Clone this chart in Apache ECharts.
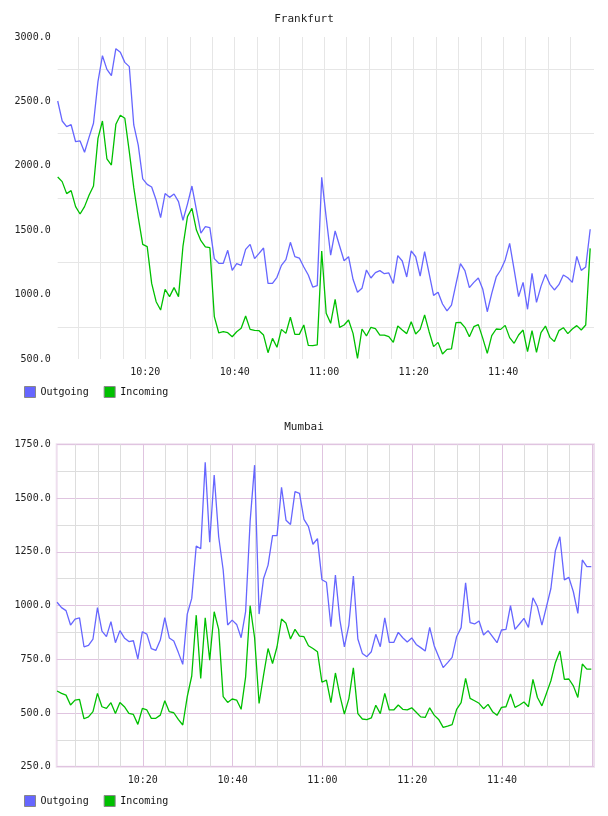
<!DOCTYPE html>
<html>
<head>
<meta charset="utf-8">
<script src="https://cdn.jsdelivr.net/npm/echarts@6/dist/echarts.min.js"></script>
<style>
  html, body { margin: 0; padding: 0; background: #fff; }
  #chart { width: 608px; height: 816px; }
</style>
</head>
<body>
<div id="chart"></div>
<script>
// minutes after 10:00 for grid lines and labels
const gridMinutes = [5, 10, 15, 20, 25, 30, 35, 40, 45, 50, 55, 60, 65, 70, 75, 80, 85, 90, 95, 100, 105, 110, 115, 120]
const labelMinutes = [20, 40, 60, 80, 100]

// Frankfurt, one sample per minute
const fraOut = [
  2503, 2348, 2304, 2319, 2187, 2193, 2105, 2221, 2330, 2653,
  2855, 2749, 2700, 2909, 2881, 2803, 2770, 2317, 2161, 1898,
  1856, 1835, 1734, 1597, 1784, 1755, 1781, 1722, 1577, 1703,
  1843, 1657, 1478, 1527, 1520, 1279, 1243, 1243, 1344, 1188,
  1240, 1227, 1351, 1390, 1279, 1320, 1362, 1087, 1087, 1134,
  1227, 1271, 1406, 1295, 1284, 1214, 1152, 1059, 1069, 1910,
  1600, 1307, 1494, 1377, 1263, 1294, 1119, 1018, 1049, 1191,
  1129, 1170, 1186, 1162, 1168, 1087, 1302, 1261, 1137, 1339,
  1294, 1144, 1333, 1165, 994, 1018, 927, 873, 919, 1082,
  1240, 1186, 1054, 1095, 1129, 1041, 867, 1010, 1137, 1191,
  1269, 1398, 1194, 984, 1095, 886, 1165, 940, 1064, 1157,
  1080, 1036, 1077, 1152, 1131, 1095, 1297, 1188, 1214, 1507
]
const fraIn = [
  1913, 1877, 1784, 1807, 1683, 1626, 1683, 1771, 1843, 2213,
  2348, 2053, 2006, 2322, 2392, 2369, 2110, 1830, 1600, 1390,
  1372, 1087, 945, 880, 1041, 984, 1054, 984, 1377, 1605,
  1670, 1501, 1419, 1370, 1364, 829, 702, 712, 704, 673,
  712, 738, 834, 730, 723, 720, 686, 549, 660, 591,
  730, 699, 824, 691, 691, 764, 606, 604, 609, 1339,
  855, 777, 963, 746, 764, 803, 699, 505, 733, 679,
  746, 736, 686, 686, 673, 629, 756, 725, 697, 790,
  694, 730, 842, 712, 596, 629, 539, 575, 578, 782,
  785, 746, 673, 751, 767, 660, 544, 681, 733, 730,
  761, 666, 622, 686, 725, 557, 720, 552, 704, 756,
  668, 635, 720, 743, 697, 733, 759, 725, 764, 1359
]

// Mumbai
const mumOut = [
  1015, 990, 976, 909, 937, 942, 808, 814, 844, 990,
  881, 855, 925, 827, 883, 849, 832, 836, 751, 878,
  867, 799, 791, 839, 943, 849, 835, 782, 726, 960,
  1033, 1277, 1264, 1666, 1294, 1607, 1320, 1165, 909, 932,
  912, 850, 971, 1390, 1653, 960, 1126, 1188, 1325, 1325,
  1550, 1397, 1377, 1530, 1522, 1401, 1367, 1285, 1311, 1120,
  1108, 901, 1142, 932, 808, 909, 1137, 844, 777, 762,
  785, 866, 808, 943, 828, 828, 875, 850, 830, 849,
  819, 804, 788, 898, 813, 762, 711, 734, 759, 855,
  897, 1106, 920, 914, 928, 863, 883, 855, 827, 886,
  889, 999, 889, 914, 940, 898, 1036, 994, 909, 994,
  1079, 1255, 1320, 1119, 1131, 1064, 963, 1212, 1181, 1181
]
const mumIn = [
  602, 591, 583, 537, 560, 563, 473, 482, 506, 591,
  529, 521, 548, 498, 549, 529, 498, 493, 447, 521,
  514, 475, 475, 490, 557, 506, 501, 470, 444, 576,
  672, 955, 661, 943, 746, 971, 889, 576, 549, 565,
  560, 517, 668, 999, 850, 544, 676, 800, 730, 808,
  937, 917, 844, 889, 858, 855, 813, 800, 785, 643,
  653, 548, 686, 581, 495, 567, 710, 497, 472, 469,
  477, 536, 497, 591, 514, 514, 537, 517, 514, 524,
  503, 482, 479, 524, 490, 470, 433, 439, 446, 517,
  548, 661, 568, 557, 545, 520, 540, 506, 489, 526,
  529, 588, 526, 537, 551, 529, 656, 572, 533, 591,
  650, 734, 788, 656, 658, 626, 572, 728, 704, 704
]

const FRA_START = 0.45  // first sample, minutes after 10:00
const MUM_START = 0.9

const FONT = '"DejaVu Sans Mono", monospace'
const BLUE = '#6666ff'
const GREEN = '#00c000'

const fmtTime = v => {
  const m = Math.round(v)
  return `${10 + Math.floor(m / 60)}:${String(m % 60).padStart(2, '0')}`
}
const fmtVal = step => v => (v % step === 0 ? v.toFixed(1) : '')
const pairs = (vals, start) => vals.map((v, i) => [start + i, v])

const labelStyle = { fontFamily: FONT, fontSize: 10, color: '#222' }

const chart = echarts.init(document.getElementById('chart'), null, { renderer: 'canvas' })

chart.setOption({
  animation: false,
  title: [
    { text: 'Frankfurt', left: 'center', top: 14, padding: 0, textStyle: { fontFamily: FONT, fontSize: 11, fontWeight: 'normal', color: '#222' } },
    { text: 'Mumbai', left: 'center', top: 422, padding: 0, textStyle: { fontFamily: FONT, fontSize: 11, fontWeight: 'normal', color: '#222' } },
  ],
  legend: [
    { left: 24, top: 386, padding: 0, data: ['Outgoing', 'Incoming'], icon: 'rect', itemWidth: 11, itemHeight: 11, itemGap: 15,
      textStyle: { fontFamily: FONT, fontSize: 10, color: '#111' }, itemStyle: { borderColor: '#888', borderWidth: 1 } },
    { left: 24, top: 795, padding: 0, data: ['Outgoing', 'Incoming'], icon: 'rect', itemWidth: 11, itemHeight: 11, itemGap: 15,
      textStyle: { fontFamily: FONT, fontSize: 10, color: '#111' }, itemStyle: { borderColor: '#888', borderWidth: 1 } },
  ],
  grid: [
    { left: 57.7, right: 14, top: 37, height: 322 },
    { left: 56.7, right: 14, top: 444.3, height: 322.4, show: true, borderColor: '#eedfee', borderWidth: 2 },
  ],
  xAxis: [
    {
      type: 'value', gridIndex: 0, min: 0.45, max: 120.3,
      axisLine: { show: false },
      axisTick: { show: false, customValues: gridMinutes.filter(m => m < 120) },
      axisLabel: { ...labelStyle, margin: 8, customValues: labelMinutes, formatter: fmtTime },
      splitLine: { show: true, lineStyle: { color: '#e6e6e6', width: 1 } },
    },
    {
      type: 'value', gridIndex: 1, min: 0.82, max: 120.5,
      axisLine: { show: false },
      axisTick: { show: false, customValues: gridMinutes },
      axisLabel: { ...labelStyle, margin: 9, customValues: labelMinutes, formatter: fmtTime },
      splitLine: { show: true, lineStyle: { color: ['#dddddd', '#dddddd', '#dddddd', '#e0c4e0'], width: 1 } },
    },
  ],
  yAxis: [
    {
      type: 'value', gridIndex: 0, min: 500, max: 3000, interval: 250,
      axisLine: { show: false }, axisTick: { show: false },
      axisLabel: { ...labelStyle, margin: 7, formatter: fmtVal(500) },
      splitLine: { show: true, lineStyle: { color: ['rgba(0,0,0,0)', '#e6e6e6'], width: 1 } },
    },
    {
      type: 'value', gridIndex: 1, min: 250, max: 1750, interval: 125,
      axisLine: { show: false }, axisTick: { show: false },
      axisLabel: { ...labelStyle, margin: 6, formatter: fmtVal(250) },
      splitLine: { show: true, lineStyle: { color: ['#e0c4e0', '#dddddd'], width: 1 } },
    },
  ],
  series: [
    { name: 'Outgoing', type: 'line', xAxisIndex: 0, yAxisIndex: 0, data: pairs(fraOut, FRA_START), showSymbol: false, color: BLUE, lineStyle: { color: BLUE, width: 1.3 } },
    { name: 'Incoming', type: 'line', xAxisIndex: 0, yAxisIndex: 0, data: pairs(fraIn, FRA_START), showSymbol: false, color: GREEN, lineStyle: { color: GREEN, width: 1.3 } },
    { name: 'Outgoing', type: 'line', xAxisIndex: 1, yAxisIndex: 1, data: pairs(mumOut, MUM_START), showSymbol: false, color: BLUE, lineStyle: { color: BLUE, width: 1.3 } },
    { name: 'Incoming', type: 'line', xAxisIndex: 1, yAxisIndex: 1, data: pairs(mumIn, MUM_START), showSymbol: false, color: GREEN, lineStyle: { color: GREEN, width: 1.3 } },
  ],
})
</script>
</body>
</html>
